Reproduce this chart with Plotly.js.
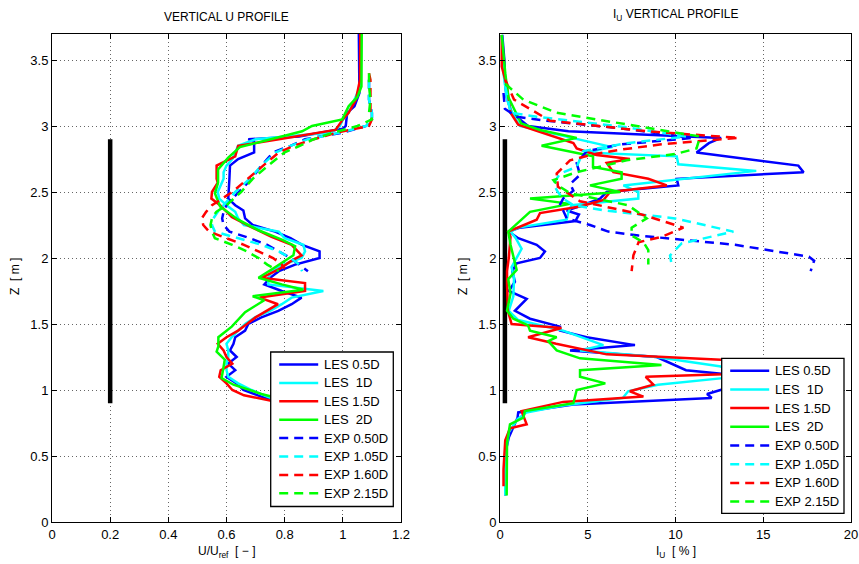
<!DOCTYPE html>
<html>
<head>
<meta charset="utf-8">
<script src="https://cdn.plot.ly/plotly-3.0.1.min.js"></script>
<style>html,body{margin:0;padding:0;background:#fff;}#chart{width:859px;height:564px;}</style>
</head>
<body>
<div id="chart"></div>
<script>
// ---------- Data: left panel (U/Uref vs Z) ----------
const seriesNames = ['LES 0.5D', 'LES  1D', 'LES 1.5D', 'LES  2D', 'EXP 0.50D', 'EXP 1.05D', 'EXP 1.60D', 'EXP 2.15D'];

const uLes05Z = [3.7,3.25,3.15,3.1,3.0,2.98,2.92,2.9,2.88,2.8,2.75,2.7,2.6,2.5,2.45,2.4,2.36,2.3,2.25,2.2,2.15,2.1,2.05,2.0,1.95,1.9,1.85,1.8,1.75,1.7,1.65,1.6,1.55,1.5,1.45,1.4,1.35,1.3,1.25,1.2,1.15,1.1,1.05,1.0,0.95,0.9,0.85];
const uLes05  = [1.055,1.057,1.04,1.015,1.01,1.0,0.85,0.675,0.695,0.695,0.64,0.612,0.61,0.606,0.606,0.63,0.658,0.664,0.69,0.767,0.82,0.86,0.92,0.92,0.836,0.78,0.75,0.73,0.79,0.858,0.824,0.778,0.72,0.675,0.664,0.63,0.624,0.612,0.635,0.606,0.63,0.60,0.635,0.658,0.72,0.79,0.85];

const uLes1Z = [3.7,3.3,3.2,3.1,3.05,3.0,2.95,2.9,2.85,2.8,2.75,2.7,2.65,2.6,2.55,2.5,2.45,2.4,2.35,2.3,2.25,2.2,2.15,2.1,2.05,2.0,1.95,1.9,1.85,1.8,1.75,1.7,1.65,1.6,1.55,1.5,1.45,1.4,1.35,1.3,1.25,1.2,1.15,1.1,1.05,1.0,0.95,0.9,0.85];
const uLes1  = [1.06,1.06,1.04,1.02,1.0,0.99,0.96,0.70,0.64,0.63,0.62,0.60,0.59,0.59,0.58,0.57,0.575,0.60,0.63,0.64,0.66,0.78,0.80,0.864,0.87,0.858,0.795,0.755,0.744,0.744,0.933,0.824,0.79,0.75,0.698,0.664,0.64,0.618,0.60,0.606,0.606,0.60,0.60,0.606,0.64,0.686,0.74,0.80,0.85];

const uLes15Z = [3.7,3.35,3.2,3.1,3.05,2.97,2.9,2.85,2.77,2.7,2.6,2.57,2.5,2.45,2.4,2.31,2.24,2.16,2.1,2.02,1.98,1.92,1.85,1.81,1.75,1.7,1.65,1.6,1.55,1.5,1.45,1.4,1.35,1.3,1.25,1.2,1.15,1.1,1.05,1.0,0.96,0.92,0.85];
const uLes15  = [1.06,1.059,1.045,1.02,1.0,0.975,0.78,0.64,0.63,0.566,0.566,0.57,0.55,0.548,0.578,0.618,0.68,0.755,0.824,0.858,0.824,0.784,0.72,0.87,0.87,0.714,0.777,0.74,0.70,0.67,0.64,0.60,0.57,0.59,0.60,0.62,0.58,0.575,0.60,0.62,0.66,0.75,0.85];

const uLes2Z = [3.7,3.3,3.22,3.15,3.05,3.0,2.96,2.84,2.76,2.67,2.57,2.49,2.39,2.29,2.21,2.14,2.09,2.02,1.93,1.85,1.80,1.76,1.71,1.68,1.59,1.48,1.40,1.33,1.29,1.23,1.15,1.09,1.04,0.97,0.92,0.85];
const uLes2  = [1.065,1.064,1.05,1.02,0.998,0.894,0.86,0.646,0.606,0.571,0.571,0.56,0.578,0.64,0.71,0.79,0.836,0.83,0.767,0.71,0.79,0.864,0.69,0.73,0.664,0.618,0.572,0.572,0.566,0.594,0.588,0.583,0.624,0.72,0.81,0.88];

const uExp050Z = [3.35,3.3,3.2,3.1,3.05,3.0,2.95,2.9,2.85,2.8,2.7,2.6,2.5,2.45,2.4,2.35,2.3,2.25,2.2,2.15,2.1,2.05,2.0,1.95,1.9];
const uExp050  = [1.09,1.09,1.09,1.10,1.10,1.08,1.0,0.87,0.82,0.76,0.72,0.686,0.64,0.62,0.60,0.59,0.585,0.59,0.61,0.68,0.74,0.78,0.82,0.85,0.88];

const uExp105Z = [3.35,3.3,3.2,3.1,3.05,3.0,2.95,2.9,2.85,2.8,2.7,2.6,2.5,2.45,2.4,2.35,2.3,2.25,2.2,2.15,2.1,2.05,2.0,1.95,1.9];
const uExp105  = [1.09,1.09,1.09,1.10,1.10,1.08,0.99,0.88,0.82,0.77,0.72,0.68,0.63,0.61,0.59,0.57,0.555,0.55,0.56,0.64,0.72,0.78,0.82,0.85,0.86];

const uExp160Z = [3.4,3.35,3.3,3.2,3.1,3.05,3.0,2.95,2.9,2.85,2.8,2.7,2.6,2.5,2.45,2.4,2.35,2.3,2.25,2.2,2.15,2.1,2.05,2.0,1.95,1.92];
const uExp160  = [1.09,1.095,1.095,1.095,1.095,1.10,1.09,0.98,0.90,0.83,0.78,0.726,0.674,0.62,0.585,0.55,0.53,0.515,0.52,0.54,0.60,0.66,0.71,0.76,0.79,0.80];

const uExp215Z = [3.4,3.35,3.3,3.2,3.1,3.05,3.0,2.95,2.9,2.85,2.8,2.7,2.6,2.5,2.4,2.35,2.3,2.25,2.2,2.15,2.1,2.05,2.0,1.95,1.9];
const uExp215  = [1.09,1.09,1.09,1.095,1.09,1.10,1.05,0.967,0.90,0.852,0.80,0.743,0.69,0.65,0.60,0.565,0.55,0.545,0.55,0.56,0.62,0.67,0.71,0.74,0.78];

// ---------- Data: right panel (I_U vs Z) ----------
const iLes05Z = [3.69,3.5,3.3,3.22,3.1,3.05,3.0,2.96,2.92,2.91,2.87,2.8,2.7,2.65,2.6,2.55,2.5,2.45,2.4,2.36,2.33,2.28,2.23,2.2,2.15,2.1,2.05,2.0,1.96,1.9,1.82,1.75,1.69,1.6,1.54,1.48,1.45,1.4,1.34,1.3,1.25,1.15,1.12,1.08,1.04,1.01,0.97,0.94,0.89,0.83,0.79,0.64,0.52,0.32,0.2];
const iLes05  = [0.13,0.25,0.3,0.38,0.66,1.14,1.6,3.9,10.3,12.6,11.9,11.2,17.0,17.3,10.07,10.16,6.08,5.7,4.7,3.8,4.5,4.3,1.14,0.5,1.04,2.09,2.56,2.28,0.95,0.7,0.85,0.5,1.52,0.85,1.71,3.42,3.42,4.94,7.69,3.99,8.93,10.6,12.9,14.5,14.0,12.8,11.8,12.06,4.18,1.04,1.0,0.5,0.3,0.3,0.3];

const iLes1Z = [3.69,3.4,3.2,3.1,3.0,2.91,2.84,2.8,2.77,2.71,2.66,2.55,2.5,2.45,2.4,2.35,2.29,2.23,2.2,2.15,2.07,1.93,1.85,1.71,1.6,1.53,1.45,1.34,1.3,1.25,1.18,1.13,1.09,1.04,0.99,0.94,0.88,0.83,0.78,0.68,0.5,0.3,0.2];
const iLes1  = [0.1,0.2,0.4,0.7,1.14,4.2,6.4,4.84,10.07,10.16,14.6,7.03,7.88,7.88,4.08,3.9,3.8,1.04,0.6,0.9,1.23,0.66,0.8,0.76,0.5,1.04,3.6,5.89,4.56,8.9,12.5,14.2,12.7,9.0,7.3,7.0,3.5,1.5,1.0,0.5,0.3,0.3,0.3];

const iLes15Z = [3.69,3.45,3.3,3.1,3.01,2.87,2.83,2.78,2.75,2.72,2.65,2.6,2.55,2.5,2.44,2.39,2.34,2.29,2.2,2.16,2.0,1.9,1.8,1.6,1.5,1.47,1.4,1.35,1.27,1.23,1.18,1.12,1.1,1.04,0.99,0.95,0.91,0.84,0.74,0.71,0.62,0.4,0.27];
const iLes15  = [0.1,0.1,0.4,0.6,1.04,4.18,4.37,5.5,7.4,6.08,6.46,8.45,9.5,6.27,5.9,4.56,2.28,2.09,0.47,0.6,0.5,0.4,0.4,0.45,0.66,3.5,1.6,3.2,6.08,12.6,14.3,12.7,8.3,8.74,7.4,8.17,3.6,1.23,1.52,0.57,0.3,0.2,0.2];

const iLes2Z = [3.69,3.4,3.22,3.07,3.02,2.97,2.91,2.85,2.77,2.69,2.65,2.6,2.55,2.5,2.45,2.41,2.35,2.2,2.1,1.91,1.84,1.73,1.6,1.54,1.49,1.45,1.4,1.37,1.3,1.24,1.19,1.15,1.1,1.05,1.0,0.9,0.84,0.79,0.74,0.6,0.4,0.2];
const iLes2  = [0.1,0.3,0.47,1.04,1.2,2.28,4.37,2.37,5.3,5.3,6.93,6.93,5.13,6.84,1.71,3.99,1.71,0.47,0.6,0.95,0.47,0.6,0.4,0.76,1.6,1.71,3.23,2.75,3.23,4.56,9.2,4.56,4.56,6.0,4.37,4.18,1.42,1.33,0.57,0.4,0.4,0.38];

const iExp050Z = [3.25,3.13,3.07,3.04,2.98,2.91,2.86,2.81,2.72,2.63,2.56,2.51,2.45,2.4,2.36,2.3,2.25,2.2,2.17,2.1,2.01,1.98,1.9];
const iExp050  = [0.2,0.28,0.95,2.66,7.03,11.0,6.84,4.94,4.37,4.56,4.0,4.18,3.6,3.4,3.6,3.8,5.13,6.17,7.9,13.4,17.6,17.9,17.7];

const iExp105Z = [3.3,3.1,3.07,2.99,2.92,2.87,2.81,2.69,2.64,2.56,2.5,2.45,2.4,2.36,2.3,2.2,2.11,2.02,1.93];
const iExp105  = [0.3,0.6,2.09,7.22,10.6,7.22,4.75,4.37,3.42,3.04,3.3,3.6,4.18,6.0,9.97,13.3,10.35,9.69,9.8];

const iExp160Z = [3.35,3.2,3.04,2.96,2.91,2.86,2.82,2.79,2.74,2.64,2.54,2.46,2.43,2.33,2.23,2.16,2.12,2.02,1.9];
const iExp160  = [0.3,0.8,2.85,8.36,13.6,9.1,6.84,5.5,3.99,3.23,3.3,4.27,4.56,8.07,10.45,9.2,7.9,7.6,7.5];

const iExp215Z = [3.32,3.2,3.1,3.01,2.92,2.83,2.79,2.74,2.65,2.59,2.55,2.49,2.4,2.3,2.23,2.17,2.12,2.06,1.95];
const iExp215  = [0.3,1.33,3.23,7.22,11.4,11.2,10.07,7.22,4.37,3.04,3.3,4.0,7.3,8.36,7.5,7.5,8.17,8.45,8.45];

// rotor extent marker (black bar)
const barZ = [0.9, 2.9];
const barXLeft = [0.2, 0.2];
const barXRight = [0.28, 0.28];

const colors = ['#0000ff', '#00ffff', '#ff0000', '#00ff00', '#0000ff', '#00ffff', '#ff0000', '#00ff00'];
const DASH = '9px,6px';

const leftX = [uLes05, uLes1, uLes15, uLes2, uExp050, uExp105, uExp160, uExp215];
const leftZ = [uLes05Z, uLes1Z, uLes15Z, uLes2Z, uExp050Z, uExp105Z, uExp160Z, uExp215Z];
const rightX = [iLes05, iLes1, iLes15, iLes2, iExp050, iExp105, iExp160, iExp215];
const rightZ = [iLes05Z, iLes1Z, iLes15Z, iLes2Z, iExp050Z, iExp105Z, iExp160Z, iExp215Z];

const traces = [];
traces.push({x: barXLeft, y: barZ, mode: 'lines', line: {color: '#000', width: 4.5}, showlegend: false, xaxis: 'x', yaxis: 'y', hoverinfo: 'skip'});
traces.push({x: barXRight, y: barZ, mode: 'lines', line: {color: '#000', width: 4.5}, showlegend: false, xaxis: 'x2', yaxis: 'y2', hoverinfo: 'skip'});
for (let i = 0; i < 8; i++) {
  traces.push({x: leftX[i], y: leftZ[i], name: seriesNames[i], mode: 'lines', showlegend: false,
    line: {color: colors[i], width: 2.5, dash: i < 4 ? 'solid' : DASH}, xaxis: 'x', yaxis: 'y'});
}
for (let i = 0; i < 8; i++) {
  traces.push({x: rightX[i], y: rightZ[i], name: seriesNames[i], mode: 'lines', showlegend: false,
    line: {color: colors[i], width: 2.5, dash: i < 4 ? 'solid' : DASH}, xaxis: 'x2', yaxis: 'y2'});
}

const FONT = 'Liberation Sans, Arial, Helvetica, sans-serif';
const W = 859, H = 564;
const px = v => v / W;
const py = v => (H - v) / H;

const axisCommon = {
  showline: true, linecolor: '#000', linewidth: 1, mirror: 'ticks',
  ticks: 'inside', ticklen: 5, tickcolor: '#000', tickwidth: 1,
  showgrid: true, gridcolor: 'rgba(0,0,0,0.6)', gridwidth: 1, griddash: '1px,3px',
  zeroline: false, fixedrange: true,
  tickfont: {family: FONT, size: 13, color: '#000'}
};

// ---------- Legend boxes (drawn as shapes + annotations, in paper pixels) ----------
const shapes = [];
const annotations = [
  {text: 'VERTICAL U PROFILE', xref: 'paper', yref: 'paper', x: px(226.5), y: py(17), xanchor: 'center', yanchor: 'middle', showarrow: false, font: {family: FONT, size: 12}},
  {text: 'I<sub>U</sub> VERTICAL PROFILE', xref: 'paper', yref: 'paper', x: px(675.5), y: py(5), xanchor: 'center', yanchor: 'top', showarrow: false, font: {family: FONT, size: 12}},
  {text: 'U/U<sub>ref</sub>  [ \u2212 ]', xref: 'paper', yref: 'paper', x: px(226.5), y: py(542), xanchor: 'center', yanchor: 'top', showarrow: false, font: {family: FONT, size: 12}},
  {text: 'I<sub>U</sub>  [ % ]', xref: 'paper', yref: 'paper', x: px(676), y: py(542), xanchor: 'center', yanchor: 'top', showarrow: false, font: {family: FONT, size: 12}},
  {text: 'Z  [ m ]', xref: 'paper', yref: 'paper', x: px(15), y: py(277), xanchor: 'center', yanchor: 'middle', textangle: -90, showarrow: false, font: {family: FONT, size: 12}},
  {text: 'Z  [ m ]', xref: 'paper', yref: 'paper', x: px(463), y: py(277), xanchor: 'center', yanchor: 'middle', textangle: -90, showarrow: false, font: {family: FONT, size: 12}}
];

function addLegend(left, top, right, bottom, firstY, step) {
  shapes.push({type: 'rect', xref: 'paper', yref: 'paper', x0: px(left), x1: px(right), y0: py(bottom), y1: py(top),
    fillcolor: '#fff', line: {color: '#000', width: 1.3}, layer: 'above'});
  for (let i = 0; i < 8; i++) {
    const yy = firstY + i * step;
    shapes.push({type: 'line', xref: 'paper', yref: 'paper', x0: px(left + 8.5), x1: px(left + 47.5), y0: py(yy), y1: py(yy),
      line: {color: colors[i], width: 2.5, dash: i < 4 ? 'solid' : DASH}, layer: 'above'});
    annotations.push({text: seriesNames[i].replace(/  /g, '&nbsp; '), xref: 'paper', yref: 'paper', x: px(left + 51.5), y: py(yy),
      xanchor: 'left', yanchor: 'middle', showarrow: false, font: {family: FONT, size: 13, color: '#000'}});
  }
}
addLegend(270.7, 352, 393.3, 506.5, 364.5, 18.4);
addLegend(721.7, 358.3, 844, 513.3, 370.7, 18.7);

const layout = {
  width: W, height: H,
  margin: {l: 0, r: 0, t: 0, b: 0},
  paper_bgcolor: '#fff', plot_bgcolor: '#fff',
  font: {family: FONT, color: '#000'},
  showlegend: false,
  xaxis: Object.assign({}, axisCommon, {domain: [px(52), px(401)], range: [0, 1.2], tick0: 0, dtick: 0.2, anchor: 'y'}),
  yaxis: Object.assign({}, axisCommon, {domain: [py(522), py(33.6)], range: [0, 3.7], tick0: 0, dtick: 0.5, anchor: 'x'}),
  xaxis2: Object.assign({}, axisCommon, {domain: [px(500), px(851)], range: [0, 20], tick0: 0, dtick: 5, anchor: 'y2'}),
  yaxis2: Object.assign({}, axisCommon, {domain: [py(522), py(33.6)], range: [0, 3.7], tick0: 0, dtick: 0.5, anchor: 'x2'}),
  shapes: shapes,
  annotations: annotations
};

Plotly.newPlot('chart', traces, layout, {staticPlot: true, displayModeBar: false});
</script>
</body>
</html>
